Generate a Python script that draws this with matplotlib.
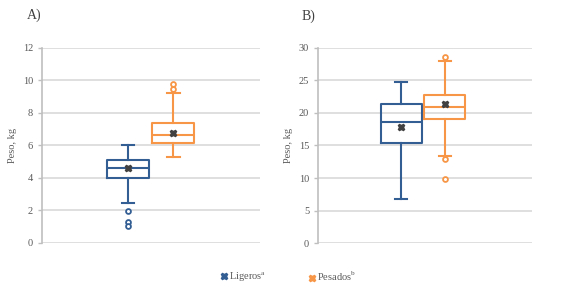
import matplotlib
matplotlib.use("Agg")
import matplotlib.pyplot as plt
from matplotlib.lines import Line2D

plt.rcParams['font.family'] = ['Liberation Serif', 'DejaVu Serif']
plt.rcParams['mathtext.fontset'] = 'custom'
plt.rcParams['mathtext.rm'] = 'Liberation Serif'

groups = ["Ligeros", "Pesados"]
# Panel A stats: whislo, q1, med, q3, whishi, mean, fliers
a_whislo = [2.48, 5.27]
a_q1 = [3.98, 6.13]
a_med = [4.63, 6.66]
a_q3 = [5.09, 7.38]
a_whishi = [6.03, 9.21]
a_mean = [4.62, 6.75]
a_fliers = [[1.99, 1.27, 1.07], [9.45, 9.75]]
# Panel B
b_whislo = [6.75, 13.4]
b_q1 = [15.4, 19.1]
b_med = [18.6, 20.9]
b_q3 = [21.4, 22.75]
b_whishi = [24.7, 27.96]
b_mean = [17.9, 21.3]
b_fliers = [[], [28.6, 13.0, 9.86]]

colors = ["#335E94", "#F79646"]
grid_c = "#D9D9D9"
text_c = "#595959"

fig = plt.figure(figsize=(5.65, 2.94), dpi=100)

def panel(rect, whislo, q1, med, q3, whishi, mean, fliers, ymax, step, pos, width, title, title_xy):
    ax = fig.add_axes(rect)
    for i in range(2):
        st = dict(whislo=whislo[i], q1=q1[i], med=med[i], q3=q3[i], whishi=whishi[i],
                  mean=mean[i], fliers=fliers[i])
        c = colors[i]
        ax.bxp([st], positions=[pos[i]], widths=width, showmeans=True, capwidths=width * 0.3,
               boxprops=dict(color=c, linewidth=1.5),
               medianprops=dict(color=c, linewidth=1.5),
               whiskerprops=dict(color=c, linewidth=1.5),
               capprops=dict(color=c, linewidth=1.5),
               flierprops=dict(marker='o', markersize=3.5, markerfacecolor='white',
                               markeredgecolor=c, markeredgewidth=1.3),
               meanprops=dict(marker='X', markersize=5, markerfacecolor='#404040',
                              markeredgecolor='#404040'))
    ax.set_xlim(0, 1)
    ax.set_ylim(0, ymax)
    ax.set_yticks(range(0, ymax + 1, step))
    ax.set_xticks([])
    ax.yaxis.grid(True, color=grid_c, linewidth=1.2)
    ax.set_axisbelow(True)
    for s in ['top', 'right', 'bottom']:
        ax.spines[s].set_visible(False)
    ax.spines['left'].set_color('#BFBFBF')
    ax.spines['left'].set_linewidth(1.2)
    ax.tick_params(axis='y', colors='#BFBFBF', labelcolor=text_c, labelsize=7.5, length=3, width=1)
    ax.set_ylabel("Peso, kg", fontsize=7.5, color=text_c, labelpad=4)
    fig.text(title_xy[0], title_xy[1], title, fontsize=10, color='#404040', ha='left', va='center')
    return ax

axA = panel([0.0743, 0.1735, 0.3858, 0.6635], a_whislo, a_q1, a_med, a_q3, a_whishi, a_mean,
            a_fliers, 12, 2, [0.394, 0.603], 0.193, "A)", (0.047, 0.948))
axB = panel([0.563, 0.1725, 0.379, 0.6655], b_whislo, b_q1, b_med, b_q3, b_whishi, b_mean,
            b_fliers, 30, 5, [0.388, 0.591], 0.19, "B)", (0.533, 0.945))

labels = ["Ligeros$^{\\mathrm{a}}$", "Pesados$^{\\mathrm{b}}$"]
anchors = [0.391, 0.547]
for i in range(2):
    h = Line2D([], [], linestyle='none', marker='X', markersize=5, color=colors[i])
    leg = fig.legend([h], [labels[i]], loc='center left', bbox_to_anchor=(anchors[i], 0.058),
                     frameon=False, fontsize=7.5, handlelength=0.6, handletextpad=0.2,
                     borderpad=0, borderaxespad=0)
    for t in leg.get_texts():
        t.set_color(text_c)

fig.savefig("out.png", dpi=100)
